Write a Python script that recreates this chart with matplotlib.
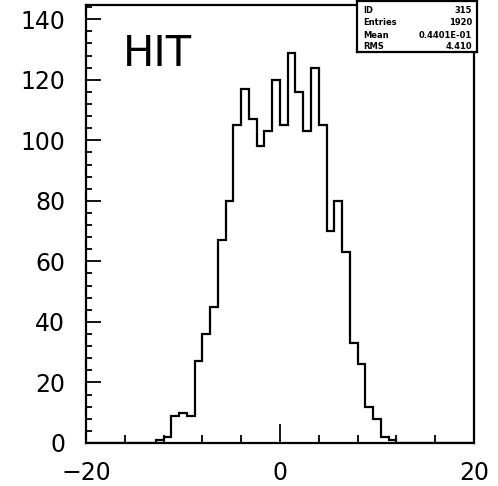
import numpy as np
import matplotlib
matplotlib.use('Agg')
import matplotlib.pyplot as plt
from matplotlib.ticker import MultipleLocator, FixedLocator

# Histogram "HIT": 50 bins from -20 to 20
x_min, x_max, n_bins = -20.0, 20.0, 50
counts = [0, 0, 0, 0, 0, 0, 0, 0, 0, 1,
          2, 9, 10, 9, 27, 36, 45, 67, 80, 105,
          117, 107, 98, 103, 120, 105, 129, 116, 103, 124,
          105, 70, 80, 63, 33, 26, 12, 8, 2, 1,
          0, 0, 0, 0, 0, 0, 0, 0, 0, 0]
x_ticks = [-20, 0, 20]
y_ticks = [0, 20, 40, 60, 80, 100, 120, 140]

stat_names = ['ID', 'Entries', 'Mean', 'RMS']
stat_values = ['315', '1920', '0.4401E-01', '4.410']
title = 'HIT'

edges = np.linspace(x_min, x_max, n_bins + 1)

fig = plt.figure(figsize=(4.98, 4.86), dpi=100)
ax = fig.add_axes([0.1727, 0.0885, 0.779, 0.9012])

ax.stairs(counts, edges, color='black', linewidth=1.6)

ax.set_xlim(x_min, x_max)
ax.set_ylim(0, 144.7)

ax.xaxis.set_major_locator(FixedLocator(x_ticks))
ax.xaxis.set_minor_locator(MultipleLocator(4))
ax.yaxis.set_major_locator(FixedLocator(y_ticks))
ax.yaxis.set_minor_locator(MultipleLocator(4))

ax.tick_params(axis='both', which='both', direction='in', color='black',
               labelsize=17)
ax.tick_params(axis='y', which='both', pad=15)
ax.tick_params(axis='x', which='both', pad=13)
ax.tick_params(axis='x', which='major', length=14, width=1.3)
ax.tick_params(axis='x', which='minor', length=6, width=1.3)
ax.tick_params(axis='y', which='major', length=11, width=1.3)
ax.tick_params(axis='y', which='minor', length=4, width=1.3)

for side in ax.spines.values():
    side.set_linewidth(1.6)

# title text inside the frame
fig.text(0.247, 0.864, title, fontsize=30, ha='left', va='baseline')

# statistics box
box = fig.add_axes([0.717, 0.893, 0.241, 0.105])
box.set_xticks([])
box.set_yticks([])
for side in box.spines.values():
    side.set_linewidth(1.6)
rows_y = [0.82, 0.57, 0.33, 0.11]
for name, val, yy in zip(stat_names, stat_values, rows_y):
    box.text(0.05, yy, name, fontsize=6, fontweight='bold', ha='left', va='center')
    box.text(0.96, yy, val, fontsize=6, fontweight='bold', ha='right', va='center')

fig.savefig('out.png', dpi=100)
